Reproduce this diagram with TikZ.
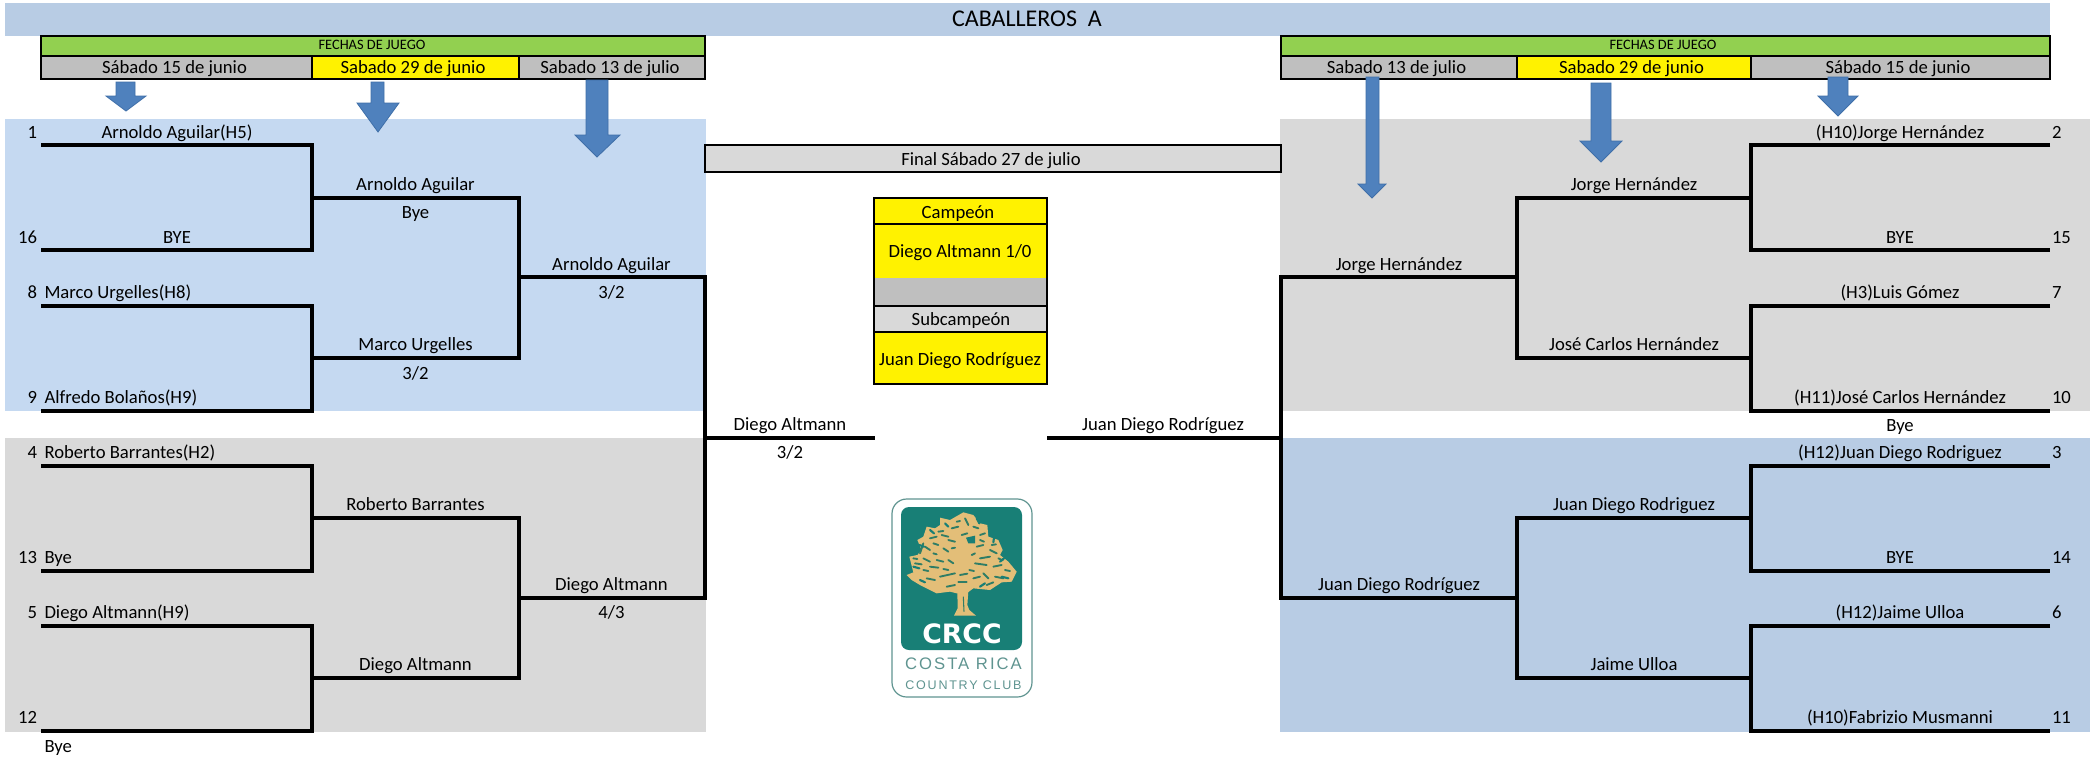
\documentclass[tikz,border=0pt]{standalone}
\usepackage{fontspec}
\setmainfont{Carlito}
\newfontfamily\logoa[LetterSpace=12]{Liberation Sans}
\newfontfamily\logob[LetterSpace=14]{Liberation Sans}
\newfontfamily\logoc{DejaVu Sans}
\definecolor{bandblue}{HTML}{B8CCE4}
\definecolor{paleblue}{HTML}{C5D9F1}
\definecolor{panelgrey}{HTML}{D9D9D9}
\definecolor{cellgrey}{HTML}{BFBFBF}
\definecolor{fechagreen}{HTML}{92D050}
\definecolor{arrowfill}{HTML}{4F81BD}
\definecolor{arrowedge}{HTML}{3F6FA8}
\definecolor{logoteal}{HTML}{187F76}
\definecolor{logotan}{HTML}{E3BE78}
\definecolor{logospot}{HTML}{2F7D66}
\definecolor{logoline}{HTML}{5F9490}
\tikzset{
  txt/.style={inner sep=0pt,outer sep=0pt,text height=9pt,text depth=0pt,font=\fontsize{14}{16}\selectfont,text=black},
  txtsmall/.style={txt,text height=7pt,font=\fontsize{10.8}{12}\selectfont},
  bracket/.style={draw=black,line width=3.2pt,miter limit=10},
  boxline/.style={draw=black,line width=1.7pt},
  sepline/.style={draw=black,line width=1.3pt},
  downarrow/.style={fill=arrowfill,draw=arrowedge,line width=0.6pt,line join=miter},
  speck/.style={draw=logospot,line width=1.4pt,line cap=round},
  notch/.style={draw=logoteal,line width=1.6pt,line cap=round},
}
\begin{document}
\begin{tikzpicture}[x=0.75pt,y=-0.75pt]
\useasboundingbox (0,0) rectangle (2100,758);
% ---- panels
\fill[bandblue] (5,3) rectangle (2050,36);
\fill[paleblue] (5,119) rectangle (706,411);
\fill[panelgrey] (5,438) rectangle (706,732);
\fill[panelgrey] (1280,119) rectangle (2090,411);
\fill[bandblue] (1280,438) rectangle (2090,732);
\node[txt,text height=11.5pt,font=\fontsize{18}{20}\selectfont] (title) at (1027,19) {CABALLEROS\ \ A};
% ---- left dates
\fill[fechagreen] (41,36) rectangle (705,56);
\fill[cellgrey] (41,56) rectangle (312,79);
\fill[yellow] (312,56) rectangle (519,79);
\fill[cellgrey] (519,56) rectangle (705,79);
\draw[boxline] (41,36) rectangle (705,79);
\draw[boxline] (41,56) -- (705,56);
\draw[sepline] (312,56) -- (312,79) (519,56) -- (519,79);
\node[txtsmall] (lf) at (372,44.5) {FECHAS DE JUEGO};
\node[txt] (ld1) at (174.5,67.5) {Sábado 15 de junio};
\node[txt] (ld2) at (413,67.5) {Sabado 29 de junio};
\node[txt] (ld3) at (610,67.5) {Sabado 13 de julio};
% ---- right dates
\fill[fechagreen] (1281,36) rectangle (2050,56);
\fill[cellgrey] (1281,56) rectangle (1517,79);
\fill[yellow] (1517,56) rectangle (1751,79);
\fill[cellgrey] (1751,56) rectangle (2050,79);
\draw[boxline] (1281,36) rectangle (2050,79);
\draw[boxline] (1281,56) -- (2050,56);
\draw[sepline] (1517,56) -- (1517,79) (1751,56) -- (1751,79);
\node[txtsmall] (rf) at (1663,44.5) {FECHAS DE JUEGO};
\node[txt] (rd3) at (1396.5,67.5) {Sabado 13 de julio};
\node[txt] (rd2) at (1631.5,67.5) {Sabado 29 de junio};
\node[txt] (rd1) at (1898,67.5) {Sábado 15 de junio};
% ---- arrows
\draw[downarrow] (116,82) -- (135,82) -- (135,96) -- (146,96) -- (126,111) -- (106,96) -- (116,96) -- cycle;
\draw[downarrow] (371,82) -- (384,82) -- (384,103) -- (399,103) -- (378,132) -- (357,103) -- (371,103) -- cycle;
\draw[downarrow] (586,80) -- (608,80) -- (608,135) -- (620,135) -- (597,157) -- (575,135) -- (586,135) -- cycle;
\draw[downarrow] (1366,77) -- (1379,77) -- (1379,184) -- (1386,184) -- (1372,198) -- (1358,184) -- (1366,184) -- cycle;
\draw[downarrow] (1591,83) -- (1611,83) -- (1611,141) -- (1622,141) -- (1601,162) -- (1580,141) -- (1591,141) -- cycle;
\draw[downarrow] (1828,77) -- (1848,77) -- (1848,96) -- (1858,96) -- (1838,116) -- (1818,96) -- (1828,96) -- cycle;
% ---- bracket junctions, left
\coordinate (a1) at (41,145); \coordinate (a16) at (41,250);
\coordinate (a8) at (41,306); \coordinate (a9) at (41,411);
\coordinate (a4) at (41,466); \coordinate (a13) at (41,571);
\coordinate (a5) at (41,626); \coordinate (a12) at (41,731);
\coordinate (b1t) at (312,145); \coordinate (b1b) at (312,250);
\coordinate (b2t) at (312,306); \coordinate (b2b) at (312,411);
\coordinate (b3t) at (312,466); \coordinate (b3b) at (312,571);
\coordinate (b4t) at (312,626); \coordinate (b4b) at (312,731);
\coordinate (c1) at (312,198); \coordinate (c2) at (312,358);
\coordinate (c3) at (312,518); \coordinate (c4) at (312,678);
\coordinate (d1) at (519,198); \coordinate (d2) at (519,358);
\coordinate (d3) at (519,518); \coordinate (d4) at (519,678);
\coordinate (e1) at (519,277); \coordinate (e2) at (519,598);
\coordinate (f1) at (705,277); \coordinate (f2) at (705,598);
\coordinate (g) at (705,438); \coordinate (champL) at (875,438);
\draw[bracket] (a1) -- (b1t) -- (b1b) -- (a16);
\draw[bracket] (a8) -- (b2t) -- (b2b) -- (a9);
\draw[bracket] (a4) -- (b3t) -- (b3b) -- (a13);
\draw[bracket] (a5) -- (b4t) -- (b4b) -- (a12);
\draw[bracket] (c1) -- (d1) -- (d2) -- (c2);
\draw[bracket] (c3) -- (d3) -- (d4) -- (c4);
\draw[bracket] (e1) -- (f1) -- (f2) -- (e2);
\draw[bracket] (g) -- (champL);
% ---- bracket junctions, right
\coordinate (A2) at (2050,145); \coordinate (A15) at (2050,250);
\coordinate (A7) at (2050,306); \coordinate (A10) at (2050,411);
\coordinate (A3) at (2050,466); \coordinate (A14) at (2050,571);
\coordinate (A6) at (2050,626); \coordinate (A11) at (2050,731);
\coordinate (B1t) at (1751,145); \coordinate (B1b) at (1751,250);
\coordinate (B2t) at (1751,306); \coordinate (B2b) at (1751,411);
\coordinate (B3t) at (1751,466); \coordinate (B3b) at (1751,571);
\coordinate (B4t) at (1751,626); \coordinate (B4b) at (1751,731);
\coordinate (C1) at (1751,198); \coordinate (C2) at (1751,358);
\coordinate (C3) at (1751,518); \coordinate (C4) at (1751,678);
\coordinate (D1) at (1517,198); \coordinate (D2) at (1517,358);
\coordinate (D3) at (1517,518); \coordinate (D4) at (1517,678);
\coordinate (E1) at (1517,277); \coordinate (E2) at (1517,598);
\coordinate (F1) at (1281,277); \coordinate (F2) at (1281,598);
\coordinate (G) at (1281,438); \coordinate (champR) at (1047,438);
\draw[bracket] (A2) -- (B1t) -- (B1b) -- (A15);
\draw[bracket] (A7) -- (B2t) -- (B2b) -- (A10);
\draw[bracket] (A3) -- (B3t) -- (B3b) -- (A14);
\draw[bracket] (A6) -- (B4t) -- (B4b) -- (A11);
\draw[bracket] (C1) -- (D1) -- (D2) -- (C2);
\draw[bracket] (C3) -- (D3) -- (D4) -- (C4);
\draw[bracket] (E1) -- (F1) -- (F2) -- (E2);
\draw[bracket] (G) -- (champR);
% ---- left names
\node[txt,anchor=east] (s1) at (37,132) {1};
\node[txt,anchor=east] (s16) at (37,237) {16};
\node[txt,anchor=east] (s8) at (37,292) {8};
\node[txt,anchor=east] (s9) at (37,397) {9};
\node[txt,anchor=east] (s4) at (37,452) {4};
\node[txt,anchor=east] (s13) at (37,557) {13};
\node[txt,anchor=east] (s5) at (37,612) {5};
\node[txt,anchor=east] (s12) at (37,717) {12};
\node[txt] (p1) at (177,132) {Arnoldo Aguilar(H5)};
\node[txt] (p16) at (177,237) {BYE};
\node[txt,anchor=west] (p8) at (44.5,292) {Marco Urgelles(H8)};
\node[txt,anchor=west] (p9) at (44.5,397) {Alfredo Bolaños(H9)};
\node[txt,anchor=west] (p4) at (44.5,452) {Roberto Barrantes(H2)};
\node[txt,anchor=west] (p13) at (44.5,557) {Bye};
\node[txt,anchor=west] (p5) at (44.5,612) {Diego Altmann(H9)};
\node[txt,anchor=west] (p12) at (44.5,746) {Bye};
\node[txt] (q1) at (415.5,184) {Arnoldo Aguilar};
\node[txt] (q1s) at (415.5,212) {Bye};
\node[txt] (q2) at (415.5,344) {Marco Urgelles};
\node[txt] (q2s) at (415.5,373) {3/2};
\node[txt] (q3) at (415.5,504) {Roberto Barrantes};
\node[txt] (q4) at (415.5,664) {Diego Altmann};
\node[txt] (r1) at (611.5,264) {Arnoldo Aguilar};
\node[txt] (r1s) at (611.5,292) {3/2};
\node[txt] (r2) at (611.5,584) {Diego Altmann};
\node[txt] (r2s) at (611.5,612) {4/3};
\node[txt] (fl) at (790,424) {Diego Altmann};
\node[txt] (fls) at (790,452) {3/2};
\node[txt] (fr) at (1163,424) {Juan Diego Rodríguez};
% ---- right names
\node[txt,anchor=west] (S2) at (2052,132) {2};
\node[txt,anchor=west] (S15) at (2052,237) {15};
\node[txt,anchor=west] (S7) at (2052,292) {7};
\node[txt,anchor=west] (S10) at (2052,397) {10};
\node[txt,anchor=west] (S3) at (2052,452) {3};
\node[txt,anchor=west] (S14) at (2052,557) {14};
\node[txt,anchor=west] (S6) at (2052,612) {6};
\node[txt,anchor=west] (S11) at (2052,717) {11};
\node[txt] (P2) at (1900,132) {(H10)Jorge Hernández};
\node[txt] (P15) at (1900,237) {BYE};
\node[txt] (P7) at (1900,292) {(H3)Luis Gómez};
\node[txt] (P10) at (1900,397) {(H11)José Carlos Hernández};
\node[txt] (P10s) at (1900,425) {Bye};
\node[txt] (P3) at (1900,452) {(H12)Juan Diego Rodriguez};
\node[txt] (P14) at (1900,557) {BYE};
\node[txt] (P6) at (1900,612) {(H12)Jaime Ulloa};
\node[txt] (P11) at (1900,717) {(H10)Fabrizio Musmanni};
\node[txt] (Q1) at (1634,184) {Jorge Hernández};
\node[txt] (Q2) at (1634,344) {José Carlos Hernández};
\node[txt] (Q3) at (1634,504) {Juan Diego Rodriguez};
\node[txt] (Q4) at (1634,664) {Jaime Ulloa};
\node[txt] (R1) at (1399,264) {Jorge Hernández};
\node[txt] (R2) at (1399,584) {Juan Diego Rodríguez};
% ---- final banner
\draw[boxline,fill=panelgrey] (705,145) rectangle (1281,172);
\node[txt] (final) at (991,159) {Final Sábado 27 de julio};
% ---- champion box
\fill[yellow] (874,198) rectangle (1047,278);
\fill[cellgrey] (874,278) rectangle (1047,306);
\fill[panelgrey] (874,306) rectangle (1047,332);
\fill[yellow] (874,332) rectangle (1047,384);
\draw[boxline] (874,198) rectangle (1047,384);
\draw[boxline] (874,224) -- (1047,224);
\draw[boxline] (874,306) -- (1047,306);
\draw[boxline] (874,332) -- (1047,332);
\node[txt] (camp) at (958,212) {Campeón};
\node[txt] (campn) at (960,251) {Diego Altmann 1/0};
\node[txt] (sub) at (961,319) {Subcampeón};
\node[txt] (subn) at (960,359) {Juan Diego Rodríguez};
% ---- logo
\draw[logoline,line width=0.9pt,rounded corners=11pt] (892,499) rectangle (1032,697);
\fill[logoteal,rounded corners=6pt] (901,507) rectangle (1022,650);
\begin{scope}[shift={(880,495)},x=0.25pt,y=-0.25pt]
  \fill[logotan] (232,288) -- (265,288) -- (262,330) -- (268,345) -- (288,362) -- (222,362) -- (233,340) -- cycle;
  \draw[logospot,line width=0.8pt] (250,305) -- (252,350);
  \fill[logotan] (80,240) -- (100,232) -- (88,185) -- (112,180) -- (125,165) -- (112,135) -- (130,125) -- (140,95) -- (165,100) -- (180,90) -- (180,68) -- (210,75) -- (250,52) -- (280,60) -- (300,85) -- (322,90) -- (325,125) -- (355,135) -- (368,165) -- (360,180) -- (385,200) -- (410,230) -- (395,260) -- (365,262) -- (330,285) -- (280,280) -- (260,295) -- (230,295) -- (210,290) -- (170,295) -- (120,270) -- (95,255) -- cycle;
  \foreach \xa/\ya/\xb/\yb in {150/130/170/125,135/155/150/165,185/120/205/125,215/100/235/95,255/70/265/90,280/95/295/100,245/120/262/115,300/120/315/115,190/160/205/170,215/160/225/158,130/190/150/200,170/195/190/200,150/215/175/218,205/195/220/205,290/155/310/150,330/165/350/175,300/190/330/185,285/205/320/210,340/215/365/210,375/225/390/228,310/235/325/250,140/250/165/255,180/245/225/235,235/262/260/262,280/250/300/245,200/275/225/270,345/245/370/250,120/175/130/145,160/175/170/178,105/205/125/208,160/145/175/150,205/135/225/140,130/225/145/228,190/222/205/225,240/240/262/236,275/180/285/175,300/135/312/140,335/150/348/148,268/225/282/228,355/190/368/196,175/110/190/108,230/80/240/78,320/270/340/262,100/190/112/192}
    \draw[speck] (\xa,\ya) -- (\xb,\yb);
  \foreach \xa/\ya/\xb/\yb in {150/105/162/115,118/150/132/155,100/215/118/220,120/255/135/262,195/85/205/95,290/70/298/85,342/128/340/142,372/190/360/200,385/250/365/245,300/275/315/265}
    \draw[notch] (\xa,\ya) -- (\xb,\yb);
  \fill[logoteal] (258,128) -- (285,122) -- (285,145) -- (265,145) -- cycle;
\end{scope}
\node[inner sep=0pt,text=white,text height=15pt,text depth=0pt,font=\logoc\bfseries\fontsize{20}{22}\selectfont] (crcc) at (962,633) {CRCC};
\node[inner sep=0pt,text=logoline,text height=9pt,text depth=0pt,font=\logoa\fontsize{12.5}{14}\selectfont] (costa) at (963.5,663) {COSTA RICA};
\node[inner sep=0pt,text=logoline,text height=7pt,text depth=0pt,font=\logob\fontsize{9.4}{11}\selectfont] (club) at (963.5,684.5) {COUNTRY CLUB};
\end{tikzpicture}
\end{document}
